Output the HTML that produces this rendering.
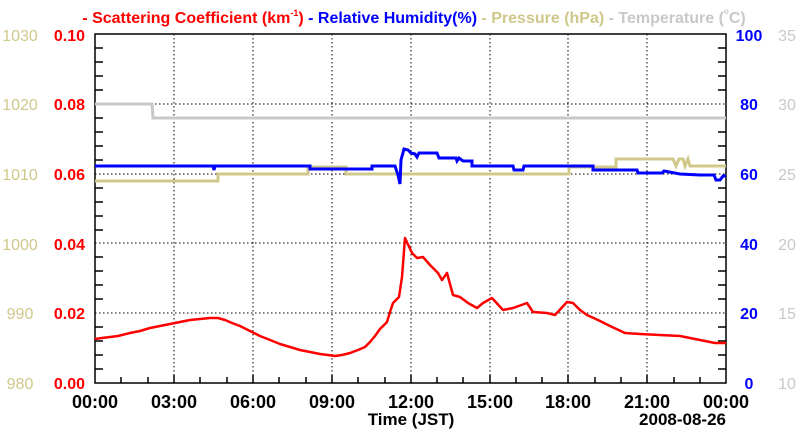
<!DOCTYPE html>
<html><head><meta charset="utf-8"><style>
body{margin:0;background:#fff;}
svg{display:block;font-family:"Liberation Sans",sans-serif;}
</style></head><body>
<svg width="800" height="434" viewBox="0 0 800 434">
<text y="23" font-size="16" font-weight="bold" text-anchor="middle" x="414"><tspan fill="#ff0000">- Scattering Coefficient (km</tspan><tspan fill="#ff0000" font-size="9" dy="-7">-1</tspan><tspan fill="#ff0000" dy="7">)</tspan><tspan fill="#0000ff"> - Relative Humidity(%)</tspan><tspan fill="#d0c88a"> - Pressure (hPa)</tspan><tspan fill="#c8c8c8"> - Temperature (</tspan><tspan fill="#c8c8c8" font-size="8" dy="-9">o</tspan><tspan fill="#c8c8c8" dy="9">C)</tspan></text>
<g stroke="#000" stroke-dasharray="1.5,2.5" stroke-width="1">
<line x1="174" y1="34" x2="174" y2="383"/><line x1="253" y1="34" x2="253" y2="383"/><line x1="332" y1="34" x2="332" y2="383"/><line x1="411" y1="34" x2="411" y2="383"/><line x1="490" y1="34" x2="490" y2="383"/><line x1="568" y1="34" x2="568" y2="383"/><line x1="647" y1="34" x2="647" y2="383"/>
<line x1="95" y1="104" x2="726" y2="104"/><line x1="95" y1="174" x2="726" y2="174"/><line x1="95" y1="243" x2="726" y2="243"/><line x1="95" y1="313" x2="726" y2="313"/>
</g>
<g stroke="#000" stroke-width="1.5" fill="none">
<rect x="95" y="34" width="631" height="349"/>
<path d="M95 48h8M95 62h8M95 76h8M95 90h8M95 118h8M95 132h8M95 146h8M95 160h8M95 188h8M95 202h8M95 216h8M95 230h8M95 257h8M95 271h8M95 285h8M95 299h8M95 327h8M95 341h8M95 355h8M95 369h8
M726 48h-8M726 62h-8M726 76h-8M726 90h-8M726 118h-8M726 132h-8M726 146h-8M726 160h-8M726 188h-8M726 202h-8M726 216h-8M726 230h-8M726 257h-8M726 271h-8M726 285h-8M726 299h-8M726 327h-8M726 341h-8M726 355h-8M726 369h-8
M121 383v-6M148 383v-6M174 383v-8M200 383v-6M227 383v-6M253 383v-8M279 383v-6M306 383v-6M332 383v-8M358 383v-6M385 383v-6M411 383v-8M437 383v-6M463 383v-6M490 383v-8M516 383v-6M542 383v-6M568 383v-8M595 383v-6M621 383v-6M647 383v-8M674 383v-6M700 383v-6"/>
</g>
<polyline fill="none" stroke="#c8c8c8" stroke-width="3" points="95,104 152,104 153,118 726,118"/>
<polyline fill="none" stroke="#d0c88a" stroke-width="3" points="95,181 218,181 218,174 308,174 308,167 346,167 346,174 569,174 569,167 616,167 616,159 673,159 676,166 679,159 683,159 685,166 688,159 690,166 726,166"/>
<polyline fill="none" stroke="#0000ff" stroke-width="3" points="95,166 213,166 214,170 215,166 310,166 310,169 372,169 372,166 395,166 398,175 400,184 401,160 404,149 408,150 411,153 415,154 417,157 419,153 437,153 439,158 456,158 457,161 459,158 463,161 472,161 472,166 513,166 514,170 523,170 524,166 593,166 593,170 637,170 638,173 662,173 664,171 680,174 700,175 714,175 716,180 720,180 723,176 726,176"/>
<polyline fill="none" stroke="#ff0000" stroke-width="2.5" stroke-linejoin="round" points="95,339 102,338 110,337 118,336 130,333 140,331 150,328 160,326 170,324 180,322 190,320 200,319 210,318 218,318 225,320 232,323 240,326 250,331 260,336 270,340 280,344 290,347 300,350 310,352 320,354 328,355 335,356 342,355 350,353 358,350 365,347 370,342 375,336 380,329 387,322 390,312 393,303 399,297 402,277 405,238 412,253 417,258 423,257 430,265 438,273 442,280 447,273 453,295 460,297 468,303 477,308 483,303 492,298 503,310 513,308 527,303 533,312 547,313 555,315 567,302 573,303 580,310 587,315 598,320 610,326 625,333 640,334 660,335 680,336 700,340 715,343 726,343"/>
<g font-size="16" font-weight="bold">
<g fill="#d0c88a" font-weight="normal" text-anchor="middle"><text x="20" y="41">1030</text><text x="20" y="110">1020</text><text x="20" y="180">1010</text><text x="20" y="250">1000</text><text x="20" y="319">990</text><text x="20" y="389">980</text></g>
<g fill="#ff0000" text-anchor="end"><text x="85" y="41">0.10</text><text x="85" y="110">0.08</text><text x="85" y="180">0.06</text><text x="85" y="250">0.04</text><text x="85" y="319">0.02</text><text x="85" y="389">0.00</text></g>
<g fill="#0000ff" text-anchor="middle"><text x="749" y="41">100</text><text x="749" y="110">80</text><text x="749" y="180">60</text><text x="749" y="250">40</text><text x="749" y="319">20</text><text x="749" y="389">0</text></g>
<g fill="#c8c8c8" font-weight="normal" text-anchor="middle"><text x="787" y="41">35</text><text x="787" y="110">30</text><text x="787" y="180">25</text><text x="787" y="250">20</text><text x="787" y="319">15</text><text x="787" y="389">10</text></g>
<g fill="#000" text-anchor="middle" font-size="18"><text x="95" y="408">00:00</text><text x="174" y="408">03:00</text><text x="253" y="408">06:00</text><text x="332" y="408">09:00</text><text x="411" y="408">12:00</text><text x="490" y="408">15:00</text><text x="568" y="408">18:00</text><text x="647" y="408">21:00</text><text x="726" y="408">00:00</text>
<text x="411" y="425" font-size="17">Time (JST)</text><text x="726" y="425" font-size="17" text-anchor="end">2008-08-26</text></g>
</g>
</svg>
</body></html>
